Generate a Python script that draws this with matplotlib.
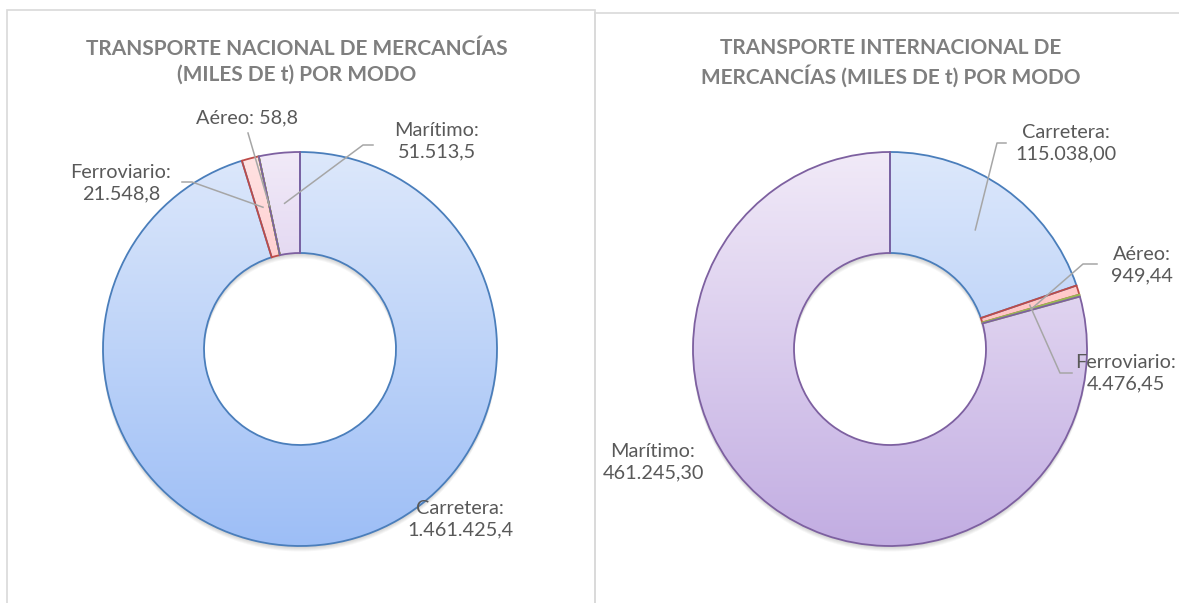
import numpy as np
import matplotlib.pyplot as plt
from matplotlib.patches import Rectangle, Wedge
from matplotlib.colors import LinearSegmentedColormap

plt.rcParams['font.family'] = ['Lato', 'DejaVu Sans']

W, H = 1179, 603

# datos
modos = ['Carretera', 'Ferroviario', 'Aéreo', 'Marítimo']
valores_nac = [1461425.4, 21548.8, 58.8, 51513.5]
valores_int = [115038.00, 4476.45, 949.44, 461245.30]

titulo_nac = 'TRANSPORTE NACIONAL DE MERCANCÍAS\n(MILES DE t) POR MODO'
titulo_int = 'TRANSPORTE INTERNACIONAL DE\nMERCANCÍAS (MILES DE t) POR MODO'

# estilos
bordes = ['#4A7EBB', '#BE4B48', '#98B954', '#7D60A0']
grad_top = ['#DDE8FB', '#FFE3E3', '#E8F3D8', '#F1EAF8']
grad_bot = ['#9DBEF6', '#FF9E9E', '#B7D78C', '#C2ADE2']


def Y(y):
    # coordenada de imagen (desde arriba) -> coordenada del eje
    return H - y


def fmt(v, dec):
    s = f'{v:,.{dec}f}'
    return s.replace(',', 'X').replace('.', ',').replace('X', '.')


def dona(ax, valores, cx, cy, R, ancho):
    # sombra suave
    for k in range(1, 6):
        ax.add_patch(Wedge((cx, cy - k), R + 0.5, 0, 360, width=ancho + 1,
                           facecolor='k', edgecolor='none', alpha=0.035, zorder=1))
    wedges, _ = ax.pie(valores, radius=R, center=(cx, cy), startangle=90,
                       counterclock=False,
                       wedgeprops=dict(width=ancho, linewidth=1.3))
    g = np.linspace(0, 1, 256)[:, None]
    for w, c0, c1, ec in zip(wedges, grad_top, grad_bot, bordes):
        cmap = LinearSegmentedColormap.from_list('g', [c0, c1])
        im = ax.imshow(g, cmap=cmap, extent=(cx - R, cx + R, cy - R, cy + R),
                       origin='upper', aspect='auto', zorder=2)
        im.set_clip_path(w)
        w.set_facecolor('none')
        w.set_edgecolor(ec)
        w.set_zorder(3)
    return wedges


def ancla(w, cx, cy, R, ancho):
    ang = np.deg2rad((w.theta1 + w.theta2) / 2)
    r = R - ancho / 2
    return cx + r * np.cos(ang), cy + r * np.sin(ang)


fig = plt.figure(figsize=(W / 100, H / 100), dpi=100)
ax = fig.add_axes([0, 0, 1, 1])

# marcos
ax.add_patch(Rectangle((7, -10), 588, Y(10) + 10, facecolor='none',
                       edgecolor='#D9D9D9', lw=1.2, zorder=0))
ax.add_patch(Rectangle((595, -10), 600, Y(13) + 10, facecolor='none',
                       edgecolor='#D9D9D9', lw=1.2, zorder=0))

R, ancho = 197, 101
col_txt = '#595959'
col_lin = '#A6A6A6'
fs_lab = 14.3
fs_tit = 15

# ---- nacional
cx1, cy1 = 300, Y(349)
w1 = dona(ax, valores_nac, cx1, cy1, R, ancho)
ax.text(297, Y(62), titulo_nac, ha='center', va='center', fontsize=fs_tit,
        weight='bold', color='#7F7F7F', linespacing=1.35)

# centro del texto, puntos de la linea guia
lay_nac = {
    'Carretera': ((460, 519), None),
    'Ferroviario': ((121, 183), [(192, 182), (182, 182)]),
    'Aéreo': ((247, 118), [(248, 133)]),
    'Marítimo': ((437, 141), [(363, 145), (373, 145)]),
}
for w, m, v in zip(w1, modos, valores_nac):
    (tx, ty), guia = lay_nac[m]
    sep = ' ' if m == 'Aéreo' else '\n'
    ax.text(tx, Y(ty), f'{m}:{sep}{fmt(v, 1)}', ha='center', va='center',
            fontsize=fs_lab, color=col_txt, linespacing=1.3, zorder=5)
    if guia:
        x0, y0 = ancla(w, cx1, cy1, R, ancho)
        xs = [x0] + [p[0] for p in guia]
        ys = [y0] + [Y(p[1]) for p in guia]
        ax.plot(xs, ys, color=col_lin, lw=1.1, zorder=4)

# ---- internacional
cx2, cy2 = 890, Y(349)
w2 = dona(ax, valores_int, cx2, cy2, R, ancho)
ax.text(891, Y(63), titulo_int, ha='center', va='center', fontsize=fs_tit,
        weight='bold', color='#7F7F7F', linespacing=1.35)

lay_int = {
    'Carretera': ((1066, 143), [(997, 143), (1006, 143)]),
    'Ferroviario': ((1126, 373), [(1060, 373), (1072, 373)]),
    'Aéreo': ((1142, 265), [(1083, 264), (1097, 264)]),
    'Marítimo': ((653, 462), None),
}
for w, m, v in zip(w2, modos, valores_int):
    (tx, ty), guia = lay_int[m]
    ax.text(tx, Y(ty), f'{m}:\n{fmt(v, 2)}', ha='center', va='center',
            fontsize=fs_lab, color=col_txt, linespacing=1.3, zorder=5)
    if guia:
        x0, y0 = ancla(w, cx2, cy2, R, ancho)
        xs = [x0] + [p[0] for p in guia]
        ys = [y0] + [Y(p[1]) for p in guia]
        ax.plot(xs, ys, color=col_lin, lw=1.1, zorder=4)

ax.set_xlim(0, W)
ax.set_ylim(0, H)
ax.set_aspect('auto')
ax.axis('off')

fig.savefig('out.png', dpi=100)
